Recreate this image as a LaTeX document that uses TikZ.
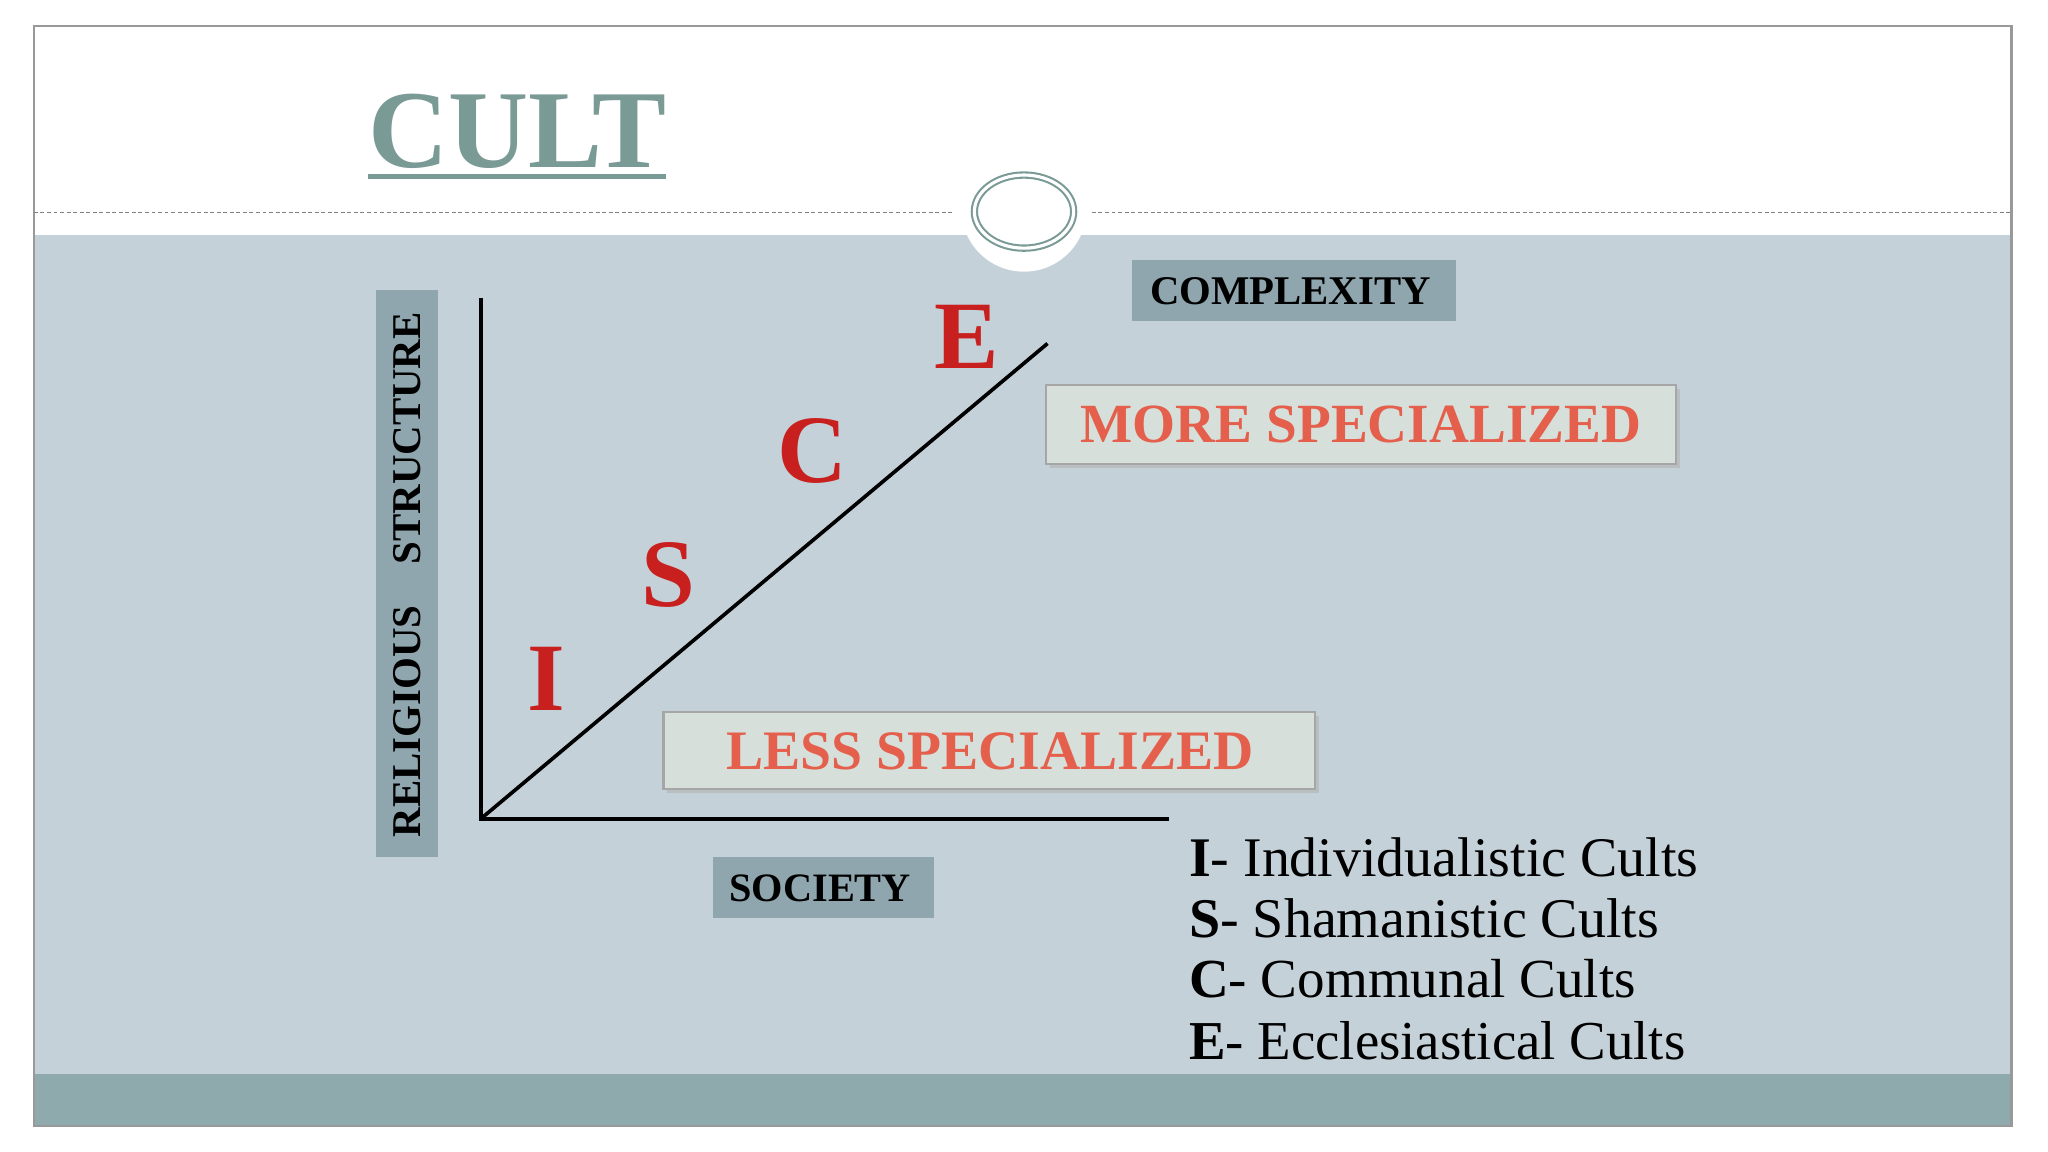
\documentclass[tikz,border=0pt]{standalone}
\usepackage{fontspec}
\setmainfont{Liberation Serif}
\usepackage{graphicx}
\definecolor{body}{HTML}{C5D1D8}
\definecolor{band}{HTML}{8FAAAD}
\definecolor{lab}{HTML}{8FA6AE}
\definecolor{teal}{HTML}{7A9A96}
\definecolor{redl}{HTML}{C8201E}
\definecolor{spec}{HTML}{E4604C}
\definecolor{specbg}{HTML}{D6DFD9}
\begin{document}
\begin{tikzpicture}[x=0.5pt,y=-0.5pt,
  labbox/.style={fill=lab,inner sep=0pt},
  lab/.style={font=\bfseries},
  letter/.style={text=redl,font=\bfseries\fontsize{37}{40}\selectfont},
  specbox/.style={fill=specbg,draw=gray!70,line width=0.8pt},
  leg/.style={anchor=base west,inner sep=0pt}]
\useasboundingbox (0,0) rectangle (1568,882);
\fill[white] (0,0) rectangle (1568,882);
\fill[body] (26,180) rectangle (1540,822);
\fill[band] (26,822) rectangle (1540,862);
\draw[gray!80,line width=0.8pt] (26,20) rectangle (1540,862);
\draw[gray,dashed,line width=0.4pt,dash pattern=on 1.5pt off 1pt] (26,163) -- (730,163) (836,163) -- (1540,163);
\fill[white] (784,160) circle[radius=48];
\draw[teal,double=white,double distance=1.2pt,line width=0.8pt] (784,162) ellipse[x radius=38,y radius=28];
\node[anchor=base west,inner sep=0pt,text=teal,font=\bfseries] (title) at (282,128) {\resizebox{114pt}{!}{\fontsize{46}{50}\selectfont CULT}};
\draw[teal,line width=2pt] (282,135) -- (510,135);
% label boxes
\path[labbox] (288,222) rectangle (335,656);
\node[lab,rotate=90] (rel) at (311.5,440) {\resizebox{201pt}{!}{\fontsize{16}{18}\selectfont RELIGIOUS\quad STRUCTURE}};
\path[labbox] (867,199) rectangle (1115,246);
\node[lab] (comp) at (988,223) {\resizebox{107.5pt}{!}{\fontsize{16}{18}\selectfont COMPLEXITY}};
\path[labbox] (546,656) rectangle (715,703);
\node[lab] (soc) at (628,680) {\resizebox{69.5pt}{!}{\fontsize{16}{18}\selectfont SOCIETY}};
% axes
\coordinate (o) at (368,627);
\coordinate (ytop) at (368,228);
\coordinate (xend) at (895,627);
\coordinate (dend) at (802,263);
\draw[line width=1.6pt] (ytop) -- (o) -- (xend);
\draw[line width=1.4pt] (o) -- (dend);
% letters
\node[letter] (I) at (418,520) {I};
\node[letter] (S) at (512,440) {S};
\node[letter] (C) at (622,345) {C};
\node[letter] (E) at (740,258) {E};
% specialized boxes
\fill[gray!60,opacity=0.6] (804,298) rectangle (1286,358);
\path[specbox] (801,295) rectangle (1283,355);
\node[text=spec,font=\bfseries] (more) at (1042,325) {\resizebox{214.5pt}{!}{\fontsize{24}{26}\selectfont MORE SPECIALIZED}};
\fill[gray!60,opacity=0.6] (511,548) rectangle (1010,607);
\path[specbox] (508,545) rectangle (1007,604);
\node[text=spec,font=\bfseries] (less) at (758,575) {\resizebox{202pt}{!}{\fontsize{24}{26}\selectfont LESS SPECIALIZED}};
% legend
\node[leg] (l1) at (910,671) {\resizebox{195pt}{!}{\fontsize{22}{24}\selectfont\textbf{I}- Individualistic Cults}};
\node[leg] (l2) at (910,718) {\resizebox{180pt}{!}{\fontsize{22}{24}\selectfont\textbf{S}- Shamanistic Cults}};
\node[leg] (l3) at (910,764) {\resizebox{171pt}{!}{\fontsize{22}{24}\selectfont\textbf{C}- Communal Cults}};
\node[leg] (l4) at (910,811) {\resizebox{190pt}{!}{\fontsize{22}{24}\selectfont\textbf{E}- Ecclesiastical Cults}};
\end{tikzpicture}
\end{document}
